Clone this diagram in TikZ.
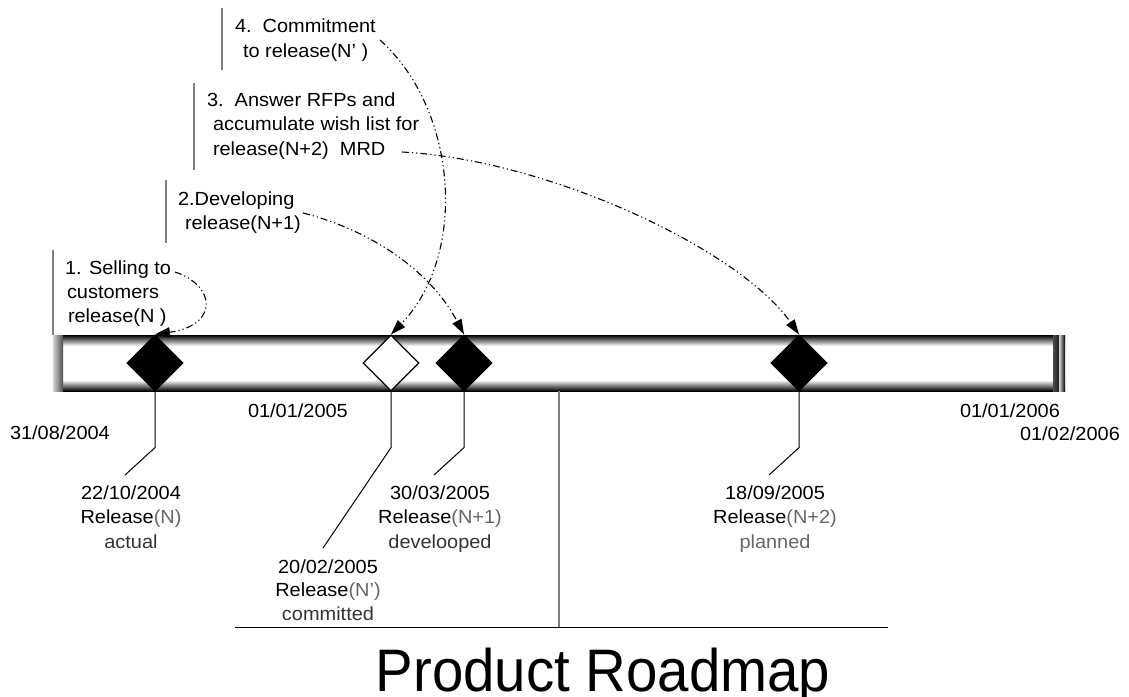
\documentclass[tikz,border=0pt]{standalone}
\usepackage{fontspec}
\setmainfont{Liberation Sans}
\newfontfamily\lblfont{Liberation Sans}[FakeStretch=1.05]
\newfontfamily\ttlfont{Liberation Sans}[FakeStretch=0.94]
\usetikzlibrary{shapes.geometric,arrows.meta}
\definecolor{paren}{HTML}{666666}
\definecolor{status}{HTML}{333333}
\definecolor{barline}{HTML}{808080}
\begin{document}
\begin{tikzpicture}[x=1pt,y=-1pt,
  txt/.style={font=\lblfont\fontsize{19}{24.5}\selectfont, inner sep=0pt, outer sep=0pt},
  lbl/.style={txt, align=center, anchor=base},
  call/.style={txt, align=left, anchor=base west},
  dia/.style={diamond, draw=black, line width=1.2pt, minimum width=56pt, minimum height=56pt, inner sep=0pt},
  stem/.style={draw=black, line width=1pt},
  callbar/.style={draw=barline, line width=1.5pt},
  flow/.style={draw=black, line width=1.1pt,
    dash pattern=on 7pt off 3pt on 1.2pt off 3pt on 1.2pt off 3pt,
    -{Triangle[length=15pt,width=10pt]}},
]
\useasboundingbox (0,0) rectangle (1129,696);

% timeline bar
\fill[white] (55,335) rectangle (1065,391);
\shade[top color=black, bottom color=white] (55,335) rectangle (1065,346);
\shade[top color=white, bottom color=black] (55,380) rectangle (1065,391);
\shade[left color=gray!35, right color=gray!60!black] (53,335) rectangle (63,391);
\shade[left color=gray!60!black, right color=black!90] (1053,335) rectangle (1059,391);
\shade[left color=white!70!gray, right color=black] (1059,335) rectangle (1065,391);

% milestones
\node[dia, fill=black] (d1) at (155,363) {};
\node[dia, fill=white] (d2) at (391,363) {};
\node[dia, fill=black] (d3) at (464,363) {};
\node[dia, fill=black] (d4) at (799,363) {};

% axis dates
\node[txt, anchor=base west] (t0) at (10,439) {31/08/2004};
\node[txt, anchor=base west] (t1) at (248,417) {01/01/2005};
\node[txt, anchor=base west] (t2) at (960,417) {01/01/2006};
\node[txt, anchor=base west] (t3) at (1020,440) {01/02/2006};

% release labels (anchor = baseline of last line)
\node[lbl] (l1) at (131,548) {22/10/2004\\Release{\color{paren}(N)}\\{\color{status}actual}};
\node[lbl, font=\lblfont\fontsize{19}{23.5}\selectfont] (l2) at (328,620) {20/02/2005\\Release{\color{paren}(N’)}\\{\color{status}committed}};
\node[lbl] (l3) at (440,548) {30/03/2005\\Release{\color{paren}(N+1)}\\{\color{status}develooped}};
\node[lbl] (l4) at (775,548) {18/09/2005\\Release{\color{paren}(N+2)}\\{\color{paren}planned}};

% stems
\coordinate (s1) at (125,475);
\coordinate (s2) at (323,548);
\coordinate (s3) at (434,475);
\coordinate (s4) at (769,475);
\draw[stem] (d1.south) -- ++(0,56) -- (s1);
\draw[stem] (d2.south) -- ++(0,56) -- (s2);
\draw[stem] (d3.south) -- ++(0,56) -- (s3);
\draw[stem] (d4.south) -- ++(0,56) -- (s4);

% bottom frame
\draw[line width=1pt] (235,627) -- (888,627);
\draw[draw=barline, line width=1.2pt] (559,391) -- (559,627);

% callouts (anchor = baseline of last line)
\node[call, font=\lblfont\fontsize{19}{24}\selectfont] (c1) at (65,322) {1. Selling to\\\hspace*{2pt}customers\\\hspace*{3pt}release(N )};
\node[call, font=\lblfont\fontsize{19}{24}\selectfont] (c2) at (178,229) {2.Developing\\\hspace*{7pt}release(N+1)};
\node[call] (c3) at (207,155) {3.\ \ Answer RFPs and\\\hspace*{6pt}accumulate wish list for\\\hspace*{6pt}release(N+2)\ \ MRD};
\node[call, font=\lblfont\fontsize{19}{25}\selectfont] (c4) at (235,57) {4.\ \ Commitment\\\hspace*{8pt}to release(N’ )};

\draw[callbar] (53,250) -- (53,335);
\draw[callbar] (166,180) -- (166,243);
\draw[callbar] (194,83) -- (194,170);
\draw[callbar] (222,8) -- (222,70);

% arrows
\coordinate (a1) at (175,272);
\coordinate (a2) at (303,213);
\coordinate (a3) at (402,152);
\coordinate (a4) at (380,40);
\draw[flow] (a1) .. controls (215,285) and (220,325) .. (d1.north);
\draw[flow] (a2) .. controls (370,230) and (430,270) .. (d3.north);
\draw[flow] (a3) .. controls (550,160) and (740,250) .. (d4.north);
\draw[flow] (a4) .. controls (458,110) and (468,255) .. (d2.north);

% title
\node[font=\ttlfont\fontsize{60}{60}\selectfont, inner sep=0pt, anchor=base] (title) at (603,691) {Product Roadmap};
\end{tikzpicture}
\end{document}
